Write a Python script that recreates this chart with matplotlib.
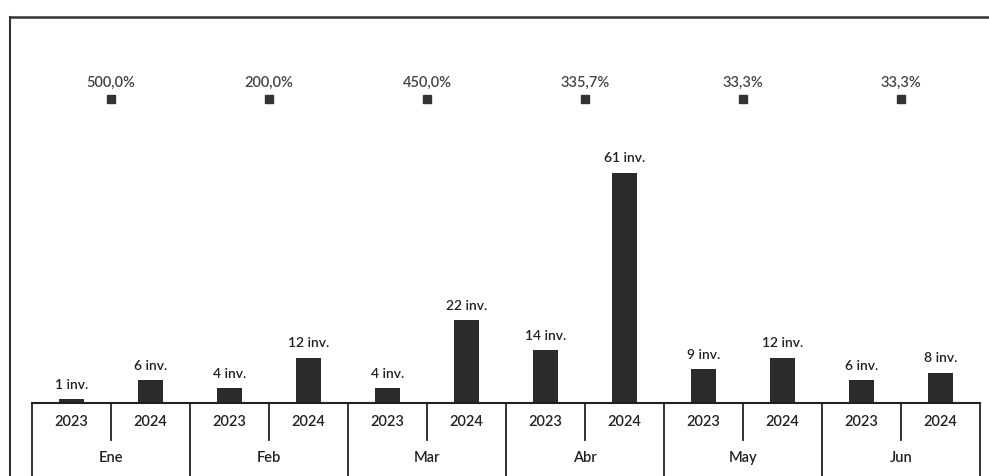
import numpy as np
import matplotlib
matplotlib.use("Agg")
import matplotlib.pyplot as plt
from matplotlib.lines import Line2D

plt.rcParams['font.family'] = ['Lato', 'DejaVu Sans']

# data
months = ["Ene", "Feb", "Mar", "Abr", "May", "Jun"]
years = ["2023", "2024"]
inv_2023 = [1, 4, 4, 14, 9, 6]
inv_2024 = [6, 12, 22, 61, 12, 8]
pct_labels = ["500,0%", "200,0%", "450,0%", "335,7%", "33,3%", "33,3%"]

W, H = 989, 476
fig = plt.figure(figsize=(W / 100, H / 100), dpi=100)
ax = fig.add_axes([32 / W, 1 - 403 / H, (980 - 32) / W, (403 - 18) / H])

x = np.arange(len(months))
x23 = x - 0.25
x24 = x + 0.25
bar_c = "#2b2b2b"
ax.bar(x23, inv_2023, width=0.16, color=bar_c)
ax.bar(x24, inv_2024, width=0.16, color=bar_c)

for xs, vals in ((x23, inv_2023), (x24, inv_2024)):
    for xi, v in zip(xs, vals):
        ax.annotate(f"{v} inv.", (xi, v), xytext=(0, 6), textcoords="offset points",
                    ha="center", va="bottom", fontsize=10, fontweight="semibold",
                    color="#222222")

# percent change markers (constant level)
level = 80.5
ax.plot(x, [level] * len(x), ls="none", marker="s", ms=5.5, color="#333333")
for xi, p in zip(x, pct_labels):
    ax.annotate(p, (xi, level), xytext=(0, 7), textcoords="offset points",
                ha="center", va="bottom", fontsize=10.5, fontweight="semibold",
                color="#444444")

ax.set_xlim(-0.5, len(months) - 0.5)
ax.set_ylim(0, 102)
for s in ("left", "right", "top"):
    ax.spines[s].set_visible(False)
ax.spines["bottom"].set_linewidth(1.5)
ax.spines["bottom"].set_color("#222222")
ax.set_xticks([])
ax.set_yticks([])

# multi-level category axis
tr = ax.get_xaxis_transform()
for i in range(len(months) + 1):
    ax.plot([i - 0.5, i - 0.5], [0, -0.2], transform=tr, color="#222222",
            lw=1.3, clip_on=False)
for i, m in enumerate(months):
    ax.plot([i, i], [0, -0.096], transform=tr, color="#222222", lw=1.3, clip_on=False)
    ax.text(i, -0.143, m, transform=tr, ha="center", va="center",
            fontsize=10.5, fontweight="semibold", color="#222222")
    ax.text(i - 0.25, -0.049, years[0], transform=tr, ha="center", va="center",
            fontsize=10.5, fontweight="semibold", color="#222222")
    ax.text(i + 0.25, -0.049, years[1], transform=tr, ha="center", va="center",
            fontsize=10.5, fontweight="semibold", color="#222222")

# outer frame of the scanned chart
fig.add_artist(Line2D([10 / W, 10 / W], [0, 1 - 17 / H], color="#333333", lw=1.5))
fig.add_artist(Line2D([10 / W, 1], [1 - 17 / H, 1 - 17 / H], color="#333333", lw=1.8))

fig.savefig("out.png", dpi=100)
